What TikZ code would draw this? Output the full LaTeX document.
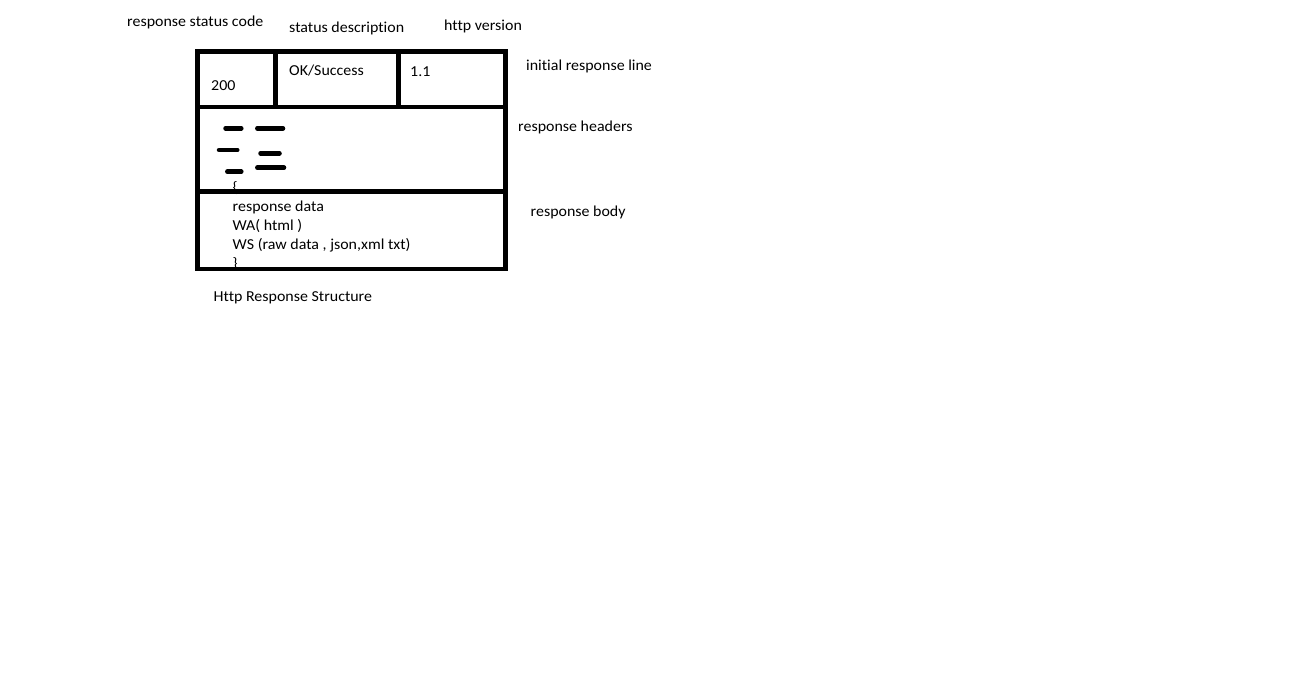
\documentclass[tikz,border=0pt]{standalone}
\usepackage{fontspec}
\setmainfont{Carlito}[FakeStretch=1.05,RawFeature={-liga}]
\begin{document}
\begin{tikzpicture}[x=1pt,y=-1pt,
  lbl/.style={anchor=base west,inner sep=0pt,font=\fontsize{15.2}{19}\selectfont,text=black},
  frame/.style={line width=4.5pt},
  hdash/.style={line width=4.5pt,line cap=round}]
\useasboundingbox[fill=white] (0,0) rectangle (1303,693);
% texts
\node[lbl] (rsc) at (127,27) {response status code};
\node[lbl] (sd) at (289,33) {status description};
\node[lbl] (hv) at (444,31) {http version};
\node[lbl] (code) at (211,90) {200};
\node[lbl] (ok) at (289,75) {OK/Success};
\node[lbl] (ver) at (410,76.5) {1.1};
\node[lbl] (irl) at (526,70.5) {initial response line};
\node[lbl] (rh) at (518,131) {response headers};
\node[lbl] (rb) at (530.5,216.5) {response body};
\node[lbl] (ob) at (232.5,192) {\{};
\node[lbl] (l1) at (232.5,211) {response data};
\node[lbl] (l2) at (232.5,230) {WA( html )};
\node[lbl] (l3) at (232.5,249) {WS (raw data , json,xml txt)};
\node[lbl] (cb) at (232.5,268) {\}};
\node[lbl] (title) at (213.5,301) {Http Response Structure};
% frame
\coordinate (tl) at (197.5,51.5);
\coordinate (br) at (505.3,268.8);
\draw[frame] (tl) rectangle (br);
\coordinate (r1l) at (197.5,107);
\coordinate (r1r) at (505.3,107);
\coordinate (r2l) at (197.5,191.3);
\coordinate (r2r) at (505.3,191.3);
\draw[frame] (r1l) -- (r1r);
\draw[frame] (r2l) -- (r2r);
\coordinate (v1t) at (275.5,51.5);
\coordinate (v1b) at (275.5,107);
\coordinate (v2t) at (398.3,51.5);
\coordinate (v2b) at (398.3,107);
\draw[frame] (v1t) -- (v1b);
\draw[frame] (v2t) -- (v2b);
% header dashes
\coordinate (d1a) at (225.5,128.3); \coordinate (d1b) at (241.3,128.3);
\coordinate (d2a) at (257.3,128.3); \coordinate (d2b) at (283,128.3);
\coordinate (d3a) at (219,150); \coordinate (d3b) at (237.3,150);
\coordinate (d4a) at (260.5,153.3); \coordinate (d4b) at (279.5,153.3);
\coordinate (d5a) at (227.3,171.7); \coordinate (d5b) at (241.3,171.7);
\coordinate (d6a) at (257.3,167.7); \coordinate (d6b) at (284,167.7);
\draw[hdash] (d1a) -- (d1b);
\draw[hdash] (d2a) -- (d2b);
\draw[hdash] (d3a) -- (d3b);
\draw[hdash] (d4a) -- (d4b);
\draw[hdash] (d5a) -- (d5b);
\draw[hdash] (d6a) -- (d6b);
\end{tikzpicture}
\end{document}
